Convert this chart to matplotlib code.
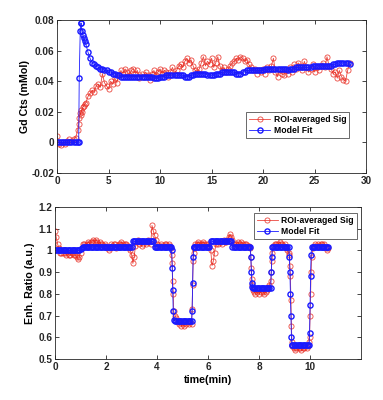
import numpy as np
import matplotlib.pyplot as plt

# ============== data =============

# top: Gd concentration vs time (min)
TOP_TIME = [0.0, 0.2, 0.4, 0.6, 0.8, 1.0, 1.2, 1.4, 1.6, 1.8,
            2.0, 2.1, 2.15, 2.25, 2.3, 2.35, 2.4, 2.5, 2.6, 2.7, 2.8, 3.0, 3.2, 3.4, 3.6, 3.8,
            4.0, 4.2, 4.4, 4.6, 4.8, 5.0, 5.2, 5.4, 5.6, 5.8,
            6.0, 6.2, 6.4, 6.6, 6.8, 7.0, 7.2, 7.4, 7.6, 7.8,
            8.0, 8.2, 8.4, 8.6, 8.8, 9.0, 9.2, 9.4, 9.6, 9.8,
            10.0, 10.2, 10.4, 10.6, 10.8, 11.0, 11.2, 11.4, 11.6, 11.8,
            12.0, 12.2, 12.4, 12.6, 12.8, 13.0, 13.2, 13.4, 13.6, 13.8,
            14.0, 14.2, 14.4, 14.6, 14.8, 15.0, 15.2, 15.4, 15.6, 15.8,
            16.0, 16.2, 16.4, 16.6, 16.8, 17.0, 17.2, 17.4, 17.6, 17.8,
            18.0, 18.2, 18.4, 18.6, 18.8, 19.0, 19.2, 19.4, 19.6, 19.8,
            20.0, 20.2, 20.4, 20.6, 20.8, 21.0, 21.2, 21.4, 21.6, 21.8,
            22.0, 22.2, 22.4, 22.6, 22.8, 23.0, 23.2, 23.4, 23.6, 23.8,
            24.0, 24.2, 24.4, 24.6, 24.8, 25.0, 25.2, 25.4, 25.6, 25.8,
            26.0, 26.2, 26.4, 26.6, 26.8, 27.0, 27.2, 27.4, 27.6, 27.8,
            28.0, 28.2, 28.4]
TOP_SIG = [0.004, -0.001, -0.002, 0.000, -0.001, 0.001, 0.002, 0.001, 0.002, 0.003,
           0.008, 0.012, 0.016, 0.019, 0.018, 0.021, 0.020, 0.023, 0.024, 0.025, 0.026, 0.030, 0.032, 0.034, 0.033, 0.037,
           0.038, 0.036, 0.045, 0.039, 0.037, 0.035, 0.040, 0.038, 0.042, 0.039,
           0.044, 0.047, 0.045, 0.048, 0.046, 0.044, 0.047, 0.048, 0.045, 0.047,
           0.042, 0.045, 0.043, 0.046, 0.044, 0.041, 0.045, 0.047, 0.044, 0.046,
           0.048, 0.045, 0.047, 0.046, 0.043, 0.046, 0.049, 0.045, 0.047, 0.050,
           0.051, 0.049, 0.053, 0.055, 0.052, 0.054, 0.050, 0.047, 0.046, 0.048,
           0.052, 0.056, 0.050, 0.053, 0.051, 0.055, 0.049, 0.052, 0.056, 0.050,
           0.047, 0.049, 0.046, 0.048, 0.050, 0.052, 0.053, 0.055, 0.054, 0.056,
           0.055, 0.053, 0.054, 0.051, 0.049, 0.047, 0.048, 0.045, 0.047, 0.046,
           0.048, 0.045, 0.049, 0.047, 0.050, 0.055, 0.046, 0.043, 0.047, 0.045,
           0.044, 0.047, 0.045, 0.049, 0.046, 0.051, 0.048, 0.052, 0.050, 0.047,
           0.053, 0.049, 0.046, 0.048, 0.051, 0.046, 0.049, 0.047, 0.050, 0.052,
           0.049, 0.056, 0.050, 0.048, 0.045, 0.046, 0.042, 0.047, 0.043, 0.041,
           0.040, 0.047, 0.052]
TOP_FIT = [0.0, 0.0, 0.0, 0.0, 0.0, 0.0, 0.0, 0.0, 0.0, 0.0,
           0.000, 0.000, 0.042, 0.073, 0.078, 0.078, 0.073, 0.070, 0.068, 0.066, 0.064, 0.059, 0.055, 0.052, 0.051, 0.050,
           0.049, 0.048, 0.048, 0.047, 0.047, 0.046, 0.046, 0.045, 0.045, 0.044,
           0.044, 0.043, 0.043, 0.043, 0.043, 0.043, 0.043, 0.043, 0.043, 0.043,
           0.043, 0.043, 0.043, 0.043, 0.043, 0.043, 0.043, 0.042, 0.042, 0.042,
           0.043, 0.043, 0.043, 0.044, 0.044, 0.044, 0.044, 0.044, 0.044, 0.044,
           0.044, 0.044, 0.043, 0.043, 0.043, 0.044, 0.044, 0.045, 0.045, 0.045,
           0.045, 0.045, 0.045, 0.044, 0.044, 0.044, 0.044, 0.045, 0.045, 0.045,
           0.046, 0.046, 0.046, 0.046, 0.046, 0.046, 0.046, 0.045, 0.045, 0.045,
           0.046, 0.046, 0.047, 0.047, 0.047, 0.047, 0.047, 0.047, 0.047, 0.047,
           0.047, 0.048, 0.048, 0.048, 0.048, 0.048, 0.048, 0.048, 0.048, 0.048,
           0.048, 0.048, 0.047, 0.048, 0.048, 0.048, 0.049, 0.049, 0.049, 0.049,
           0.049, 0.049, 0.049, 0.049, 0.050, 0.050, 0.050, 0.050, 0.050, 0.050,
           0.050, 0.050, 0.050, 0.050, 0.051, 0.051, 0.052, 0.052, 0.052, 0.052,
           0.052, 0.052, 0.051]

# bottom: enhancement ratio vs time (min)
BOT_TIME = [0.0, 0.05, 0.1, 0.15, 0.2, 0.25, 0.3, 0.35, 0.4, 0.45,
            0.5, 0.55, 0.6, 0.65, 0.7, 0.75, 0.8, 0.85, 0.9, 0.95,
            1.0, 1.05, 1.1, 1.15, 1.2, 1.25, 1.3, 1.35, 1.4, 1.45,
            1.5, 1.55, 1.6, 1.65, 1.7, 1.75, 1.8, 1.85, 1.9, 1.95,
            2.0, 2.05, 2.1, 2.15, 2.2, 2.25, 2.3, 2.35, 2.4, 2.45,
            2.5, 2.55, 2.6, 2.65, 2.7, 2.75, 2.8, 2.85, 2.9, 2.95,
            3.0,
            3.05, 3.1, 3.15, 3.2, 3.25, 3.3, 3.35, 3.4, 3.45, 3.5, 3.55, 3.6, 3.65, 3.7, 3.75,
            3.8, 3.85,
            3.9, 3.95, 4.0, 4.05, 4.1, 4.15, 4.2, 4.25, 4.3, 4.35, 4.4, 4.45, 4.5, 4.55,
            4.57, 4.59, 4.61, 4.63, 4.65,
            4.7, 4.75, 4.8, 4.85, 4.9, 4.95, 5.0, 5.05, 5.1, 5.15, 5.2, 5.25, 5.3, 5.35,
            5.37, 5.39, 5.41, 5.43,
            5.45, 5.5, 5.55, 5.6, 5.65, 5.7, 5.75, 5.8, 5.85, 5.9, 5.95, 6.0, 6.05,
            6.1, 6.15, 6.2, 6.25, 6.3, 6.35, 6.4, 6.45, 6.5, 6.55, 6.6, 6.65, 6.7, 6.75, 6.8, 6.85, 6.9,
            6.95, 7.0, 7.05, 7.1, 7.15, 7.2, 7.25, 7.3, 7.35, 7.4, 7.45, 7.5, 7.55, 7.6, 7.65,
            7.67, 7.69, 7.71, 7.73,
            7.75, 7.8, 7.85, 7.9, 7.95, 8.0, 8.05, 8.1, 8.15, 8.2, 8.25, 8.3, 8.35, 8.4, 8.45,
            8.47, 8.49, 8.51,
            8.55, 8.6, 8.65, 8.7, 8.75, 8.8, 8.85, 8.9, 8.95, 9.0, 9.05, 9.1, 9.15,
            9.18, 9.2, 9.22, 9.24, 9.26, 9.28,
            9.3, 9.35, 9.4, 9.45, 9.5, 9.55, 9.6, 9.65, 9.7, 9.75, 9.8, 9.85, 9.9, 9.95,
            9.97, 9.99, 10.01, 10.03, 10.05,
            10.1, 10.15, 10.2, 10.25, 10.3, 10.35, 10.4, 10.45, 10.5, 10.55, 10.6, 10.65, 10.7]
BOT_SIG = [1.09, 1.06, 1.03, 1.01, 0.99, 0.99, 0.99, 1.00, 0.99, 0.98,
           0.99, 0.98, 0.98, 0.99, 0.99, 0.98, 0.98, 0.97, 0.96, 0.97,
           0.99, 1.01, 1.03, 1.03, 1.02, 1.03, 1.04, 1.03, 1.04, 1.04,
           1.05, 1.04, 1.05, 1.04, 1.03, 1.04, 1.03, 1.03, 1.02, 1.03,
           1.02, 1.01, 1.00, 1.01, 1.03, 1.02, 1.03, 1.03, 1.01, 1.02,
           1.03, 1.03, 1.04, 1.03, 1.02, 1.03, 1.03, 1.02, 1.01, 1.00,
           0.98,
           0.94, 0.97, 1.02, 1.04, 1.05, 1.03, 1.04, 1.02, 1.03, 1.04, 1.03, 1.04, 1.05, 1.04, 1.03,
           1.115, 1.09,
           1.07, 1.05, 1.03, 1.02, 1.02, 1.03, 1.02, 1.02, 1.03, 1.03, 1.02, 1.03, 1.02, 1.01,
           0.98, 0.94, 0.86, 0.80, 0.72,
           0.70, 0.69, 0.67, 0.66, 0.67, 0.65, 0.66, 0.65, 0.67, 0.66, 0.67, 0.66, 0.67, 0.66,
           0.73, 0.84, 0.95, 0.99,
           1.01, 1.03, 1.03, 1.04, 1.03, 1.03, 1.03, 1.04, 1.03, 1.03, 1.02, 1.03, 1.02,
           1.00, 0.93, 0.95, 0.99, 1.03, 1.04, 1.03, 1.04, 1.04, 1.03, 1.05, 1.04, 1.04, 1.05, 1.06, 1.075, 1.06,
           1.05, 1.03, 1.02, 1.03, 1.04, 1.03, 1.03, 1.04, 1.03, 1.02, 1.03, 1.03, 1.02, 1.02, 1.01,
           0.97, 0.92, 0.87, 0.84,
           0.82, 0.81, 0.80, 0.81, 0.82, 0.80, 0.81, 0.82, 0.81, 0.80, 0.81, 0.82, 0.83, 0.84, 0.86,
           0.90, 0.95, 0.99,
           1.02, 1.03, 1.03, 1.02, 1.03, 1.04, 1.03, 1.03, 1.02, 1.03, 1.01, 1.00, 0.99,
           0.98, 0.93, 0.88, 0.77, 0.65, 0.58,
           0.56, 0.55, 0.54, 0.55, 0.56, 0.55, 0.55, 0.54, 0.55, 0.55, 0.56, 0.55, 0.56, 0.58,
           0.60, 0.70, 0.80, 0.90, 0.97,
           1.01, 1.02, 1.03, 1.02, 1.03, 1.02, 1.03, 1.03, 1.02, 1.03, 1.01, 1.00, 1.01]
BOT_FIT = [1.0, 1.0, 1.0, 1.0, 1.0, 1.0, 1.0, 1.0, 1.0, 1.0,
           1.0, 1.0, 1.0, 1.0, 1.0, 1.0, 1.0, 1.0, 1.0, 1.0,
           1.005, 1.012, 1.017, 1.017, 1.017, 1.017, 1.017, 1.017, 1.017, 1.017,
           1.017, 1.017, 1.017, 1.017, 1.017, 1.017, 1.017, 1.017, 1.017, 1.017,
           1.017, 1.017, 1.017, 1.017, 1.017, 1.017, 1.017, 1.017, 1.017, 1.017,
           1.017, 1.017, 1.017, 1.017, 1.017, 1.017, 1.017, 1.017, 1.017, 1.017,
           1.017,
           1.042, 1.042, 1.042, 1.042, 1.042, 1.042, 1.042, 1.042, 1.042, 1.042, 1.042, 1.042, 1.042, 1.042, 1.042,
           1.042, 1.042,
           1.017, 1.017, 1.017, 1.017, 1.017, 1.017, 1.017, 1.017, 1.017, 1.017, 1.017, 1.017, 1.017, 1.017,
           1.00, 0.92, 0.82, 0.72, 0.68,
           0.675, 0.675, 0.675, 0.675, 0.675, 0.675, 0.675, 0.675, 0.675, 0.675, 0.675, 0.675, 0.675, 0.675,
           0.72, 0.85, 0.97, 1.017,
           1.017, 1.017, 1.017, 1.017, 1.017, 1.017, 1.017, 1.017, 1.017, 1.017, 1.017, 1.017, 1.017,
           1.042, 1.042, 1.042, 1.042, 1.042, 1.042, 1.042, 1.042, 1.042, 1.042, 1.042, 1.042, 1.042, 1.042, 1.042, 1.042, 1.042,
           1.017, 1.017, 1.017, 1.017, 1.017, 1.017, 1.017, 1.017, 1.017, 1.017, 1.017, 1.017, 1.017, 1.017, 1.017,
           0.97, 0.90, 0.85, 0.83,
           0.828, 0.828, 0.828, 0.828, 0.828, 0.828, 0.828, 0.828, 0.828, 0.828, 0.828, 0.828, 0.828, 0.828, 0.828,
           0.90, 0.97, 1.017,
           1.017, 1.017, 1.017, 1.017, 1.017, 1.017, 1.017, 1.017, 1.017, 1.017, 1.017, 1.017, 1.017,
           0.97, 0.90, 0.80, 0.70, 0.60, 0.565,
           0.565, 0.565, 0.565, 0.565, 0.565, 0.565, 0.565, 0.565, 0.565, 0.565, 0.565, 0.565, 0.565, 0.565,
           0.62, 0.75, 0.88, 0.98, 1.017,
           1.017, 1.017, 1.017, 1.017, 1.017, 1.017, 1.017, 1.017, 1.017, 1.017, 1.017, 1.017, 1.017]

LABELS = ["ROI-averaged Sig", "Model Fit"]

# ============== style =============

SIG_COLOR = "#e8281e"
FIT_COLOR = "#1a1aff"
AX_COLOR = "#262626"
MS = 3.7
LW = 0.6
FONT = "Liberation Sans"
FS = 7.2

plt.rcParams["font.family"] = [FONT, "DejaVu Sans"]
plt.rcParams["font.weight"] = "bold"
plt.rcParams["axes.labelweight"] = "bold"


def styleAxes(ax):
    for sp in ax.spines.values():
        sp.set_color(AX_COLOR)
        sp.set_linewidth(0.6)
    ax.tick_params(direction="in", top=True, right=True, length=3, width=0.6,
                   colors=AX_COLOR, labelsize=FS, pad=2)


def drawPair(ax, t, sig, fit):
    ax.plot(t, sig, "-o", color=SIG_COLOR, mfc="none", mec=SIG_COLOR, ms=MS, lw=LW, mew=0.6,
            alpha=0.85, label=LABELS[0])
    ax.plot(t, fit, "-o", color=FIT_COLOR, mfc="none", mec=FIT_COLOR, ms=MS, lw=LW, mew=1.0,
            label=LABELS[1])


fig = plt.figure(figsize=(3.83, 4.0), dpi=100)

# ---- top ----
ax1 = fig.add_axes([0.149, 0.5675, 0.807, 0.3825])
drawPair(ax1, TOP_TIME, TOP_SIG, TOP_FIT)
ax1.set_xlim(0, 30)
ax1.set_ylim(-0.02, 0.08)
ax1.set_xticks([0, 5, 10, 15, 20, 25, 30])
ax1.set_yticks([-0.02, 0, 0.02, 0.04, 0.06, 0.08])
ax1.set_yticklabels(["-0.02", "0", "0.02", "0.04", "0.06", "0.08"])
ax1.set_ylabel("Gd Cts (mMol)", fontsize=FS + 0.5, labelpad=1)
styleAxes(ax1)
leg = ax1.legend(loc="lower right", bbox_to_anchor=(0.945, 0.23), fontsize=FS - 1.0,
                 frameon=True, fancybox=False, handlelength=2.4, borderpad=0.35,
                 labelspacing=0.25, handletextpad=0.4, borderaxespad=0)
leg.get_frame().set_edgecolor(AX_COLOR)
leg.get_frame().set_linewidth(0.6)

# ---- bottom ----
ax2 = fig.add_axes([0.1436, 0.1025, 0.80, 0.38])
drawPair(ax2, BOT_TIME, BOT_SIG, BOT_FIT)
ax2.set_xlim(0, 12)
ax2.set_ylim(0.5, 1.2)
ax2.set_xticks([0, 2, 4, 6, 8, 10])
ax2.set_yticks([0.5, 0.6, 0.7, 0.8, 0.9, 1.0, 1.1, 1.2])
ax2.set_yticklabels(["0.5", "0.6", "0.7", "0.8", "0.9", "1", "1.1", "1.2"])
ax2.set_xlabel("time(min)", fontsize=FS + 0.5, labelpad=2)
ax2.set_ylabel("Enh. Ratio (a.u.)", fontsize=FS + 0.5, labelpad=2)
styleAxes(ax2)
leg = ax2.legend(loc="upper right", bbox_to_anchor=(0.985, 0.96), fontsize=FS - 1.0,
                 frameon=True, fancybox=False, handlelength=2.4, borderpad=0.35,
                 labelspacing=0.25, handletextpad=0.4, borderaxespad=0)
leg.get_frame().set_edgecolor(AX_COLOR)
leg.get_frame().set_linewidth(0.6)

plt.savefig("out.png", dpi=100)
